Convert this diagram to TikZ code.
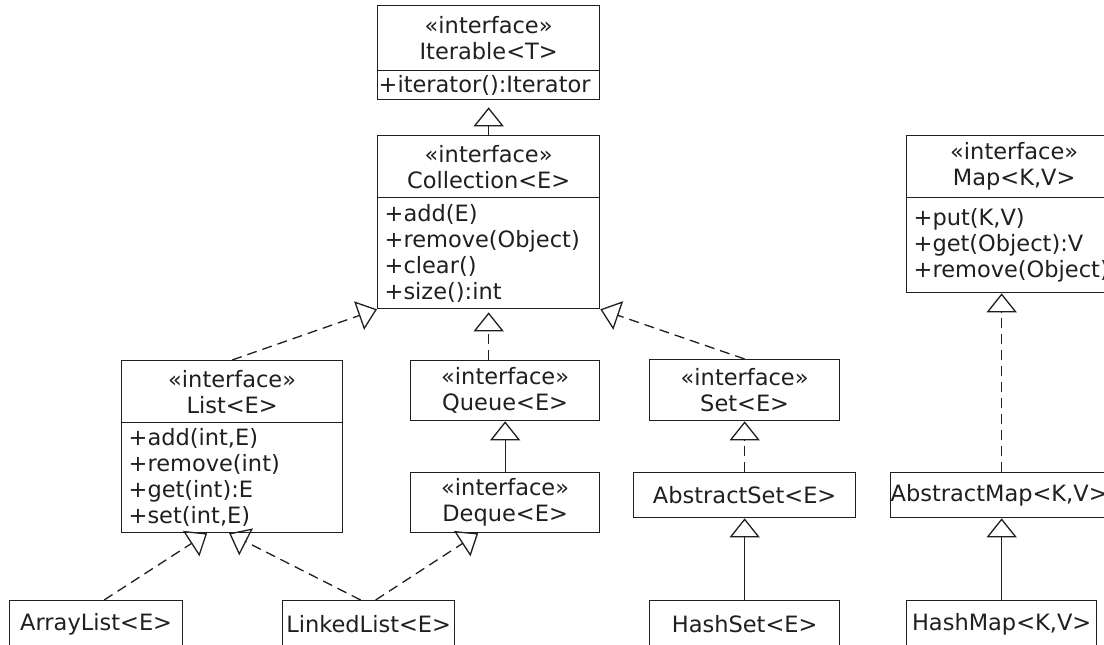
\documentclass[tikz,border=0pt]{standalone}
\usepackage{fontspec}
\setmainfont{DejaVu Sans}
\usetikzlibrary{arrows.meta,calc}
\begin{document}
\begin{tikzpicture}[x=1pt,y=-1pt,
  every node/.style={font=\fontsize{22.5}{26}\selectfont, text=black!88},
  cbox/.style 2 args={draw=black!88, line width=1.3pt, inner sep=0pt, anchor=north west, align=center, minimum width=#1, minimum height=#2},
  mbox/.style n args={3}{draw=black!88, line width=1.3pt, inner ysep=0pt, inner xsep=#3, anchor=north west, align=left, text width=#1, minimum height=#2},
  tri/.style={-{Triangle[open,width=30pt,length=19pt,line width=1.3pt]}},
  real/.style={tri, draw=black!88, line width=1.3pt, dash pattern=on 10pt off 6pt},
  gen/.style={tri, draw=black!88, line width=1.3pt}]
\useasboundingbox (0,0) rectangle (1104,645);
\clip (0,0) rectangle (1104,645);

% Iterable
\node[cbox={222pt}{65pt}] (itH) at (377,5) {«interface»\\Iterable<T>};
\node[mbox={220pt}{29pt}{1pt}] (itB) at (377,70) {+iterator():Iterator};
% Collection
\node[cbox={222pt}{62pt}] (colH) at (377,135) {«interface»\\Collection<E>};
\node[mbox={208pt}{111pt}{7pt}] (colB) at (377,197) {+add(E)\\+remove(Object)\\+clear()\\+size():int};
% Map
\node[cbox={215pt}{62pt}] (mapH) at (906,135) {«interface»\\Map<K,V>};
\node[mbox={201pt}{95pt}{7pt}] (mapB) at (906,197) {+put(K,V)\\+get(Object):V\\+remove(Object)};
% List
\node[cbox={221pt}{62pt}] (listH) at (121,360) {«interface»\\List<E>};
\node[mbox={207pt}{110pt}{7pt}] (listB) at (121,422) {+add(int,E)\\+remove(int)\\+get(int):E\\+set(int,E)};
% Queue, Set, Deque
\node[cbox={189pt}{60pt}] (queue) at (410,360) {«interface»\\Queue<E>};
\node[cbox={190pt}{61pt}] (set) at (649,359) {«interface»\\Set<E>};
\node[cbox={189pt}{60pt}] (deque) at (410,472) {«interface»\\Deque<E>};
% Abstract classes
\node[cbox={222pt}{45pt}] (absSet) at (633,472) {AbstractSet<E>};
\node[cbox={216pt}{45pt}] (absMap) at (890,472) {AbstractMap<K,V>};
% Concrete classes
\node[cbox={173pt}{47pt}] (arrayList) at (9,600) {ArrayList<E>};
\node[cbox={172pt}{47pt}] (linkedList) at (282,600) {LinkedList<E>};
\node[cbox={190pt}{47pt}] (hashSet) at (649,600) {HashSet<E>};
\node[cbox={190pt}{47pt}] (hashMap) at (906,600) {HashMap<K,V>};

% connectors
\draw[real, shorten >=7pt] (colH.north) -- (itB.south);
\draw[real] (listH.north) -- (colB.south west);
\draw[real, shorten >=3pt] (queue.north -| colB.south) -- (colB.south);
\draw[real] (set.north) -- (colB.south east);
\draw[gen] (deque.north) -- (queue.south);
\draw[real] (absSet.north) -- (set.south);
\draw[gen] (hashSet.north) -- (absSet.south);
\draw[real] (absMap.north -| hashMap.north) -- (mapB.south -| hashMap.north);
\draw[gen] (hashMap.north) -- (absMap.south -| hashMap.north);
\draw[real] ($(arrayList.north)+(8,0)$) -- ($(listB.south)+(-25,0)$);
\draw[real] ($(linkedList.north)+(-8,0)$) -- ($(listB.south)+(-3,0)$);
\draw[real] ($(linkedList.north)+(7,0)$) -- ($(deque.south)+(-27,0)$);
\end{tikzpicture}
\end{document}
